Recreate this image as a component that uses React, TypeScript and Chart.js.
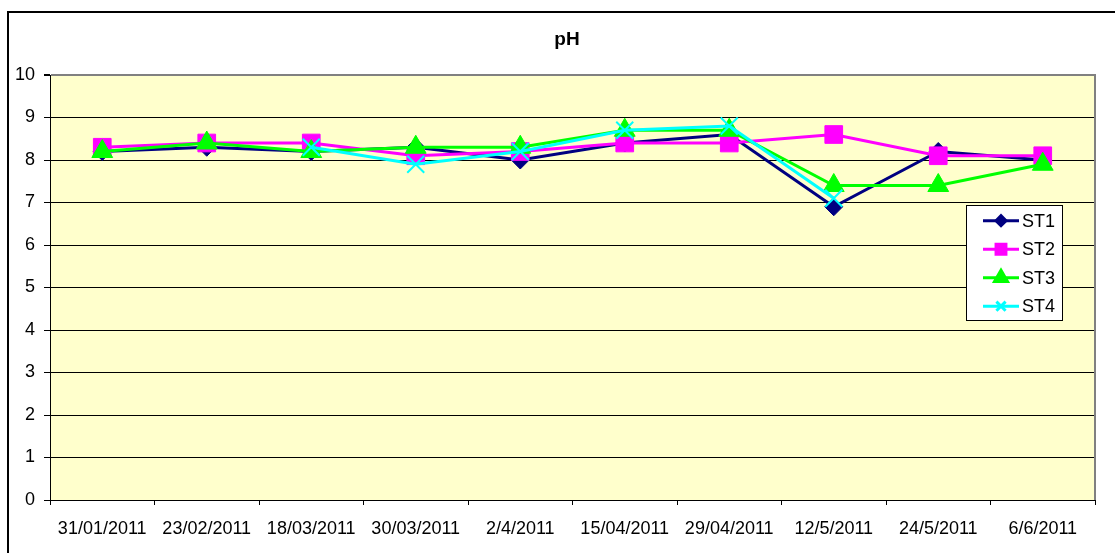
import React, { useEffect, useRef } from 'react';
import { Chart, registerables } from 'chart.js';
import { drawPoint } from 'chart.js/helpers';

Chart.register(...registerables);

const chartTitle = 'pH';
const categories = ['31/01/2011', '23/02/2011', '18/03/2011', '30/03/2011', '2/4/2011', '15/04/2011', '29/04/2011', '12/5/2011', '24/5/2011', '6/6/2011'];
const seriesNames = ['ST1', 'ST2', 'ST3', 'ST4'];
const st1 = [8.2, 8.3, 8.2, 8.3, 8.0, 8.4, 8.6, 6.9, 8.2, 8.0];
const st2 = [8.3, 8.4, 8.4, 8.1, 8.2, 8.4, 8.4, 8.6, 8.1, 8.1];
const st3 = [8.2, 8.4, 8.2, 8.3, 8.3, 8.7, 8.7, 7.4, 7.4, 7.9];
const st4 = [null, null, 8.3, 7.9, 8.2, 8.7, 8.8, 7.1, null, null];
const yMin = 0;
const yMax = 10;
const yStep = 1;

const FONT = "'Liberation Sans', Arial, sans-serif";

const styles = [
  { color: '#000080', pointStyle: 'rectRot', radius: 9, legendRadius: 5, borderWidth: 1 },
  { color: '#FF00FF', pointStyle: 'rect', radius: 12.5, legendRadius: 7, borderWidth: 1 },
  { color: '#00FF00', pointStyle: 'triangle', radius: 12, legendRadius: 7.5, borderWidth: 1 },
  { color: '#00FFFF', pointStyle: 'crossRot', radius: 12, legendRadius: 6.5, borderWidth: 2 },
];

const backgroundPlugin = {
  id: 'bgPlugin',
  beforeDraw(chart: any) {
    const { ctx, chartArea, width, height } = chart;
    ctx.save();
    ctx.fillStyle = '#ffffff';
    ctx.fillRect(0, 0, width, height);
    ctx.fillStyle = '#FFFFCC';
    ctx.fillRect(chartArea.left, chartArea.top, chartArea.right - chartArea.left, chartArea.bottom - chartArea.top);
    // outer chart border (extends beyond the canvas on the right and bottom)
    ctx.strokeStyle = '#000000';
    ctx.lineWidth = 2;
    ctx.strokeRect(8, 12, width + 20, height + 20);
    ctx.restore();
  },
  beforeDatasetsDraw(chart: any) {
    const { ctx, chartArea } = chart;
    ctx.save();
    ctx.strokeStyle = '#808080';
    ctx.lineWidth = 2;
    ctx.beginPath();
    ctx.moveTo(chartArea.right, chartArea.top - 1);
    ctx.lineTo(chartArea.right, chartArea.bottom);
    ctx.stroke();
    ctx.restore();
  },
  afterDraw(chart: any) {
    const { ctx } = chart;
    ctx.save();
    // title
    ctx.fillStyle = '#000000';
    ctx.font = `bold 19px ${FONT}`;
    ctx.textAlign = 'center';
    ctx.textBaseline = 'alphabetic';
    ctx.fillText(chartTitle, 567, 45);

    // legend
    const bx = 966.5, by = 205.5, bw = 96, bh = 115;
    ctx.fillStyle = '#ffffff';
    ctx.fillRect(bx, by, bw, bh);
    ctx.strokeStyle = '#000000';
    ctx.lineWidth = 1;
    ctx.strokeRect(bx, by, bw, bh);
    const rowH = 28.5;
    chart.data.datasets.forEach((ds: any, i: number) => {
      const cy = 220.7 + i * rowH;
      ctx.strokeStyle = ds.borderColor;
      ctx.lineWidth = 3;
      ctx.beginPath();
      ctx.moveTo(983, cy);
      ctx.lineTo(1019, cy);
      ctx.stroke();
      ctx.fillStyle = ds.pointBackgroundColor;
      ctx.strokeStyle = ds.pointBorderColor;
      drawPoint(ctx, {
        pointStyle: ds.pointStyle,
        rotation: 0,
        radius: styles[i].legendRadius,
        borderWidth: styles[i].borderWidth,
      } as any, 1001, cy);
      ctx.fillStyle = '#000000';
      ctx.font = `18px ${FONT}`;
      ctx.textAlign = 'left';
      ctx.textBaseline = 'middle';
      ctx.fillText(ds.label, 1022, cy + 1);
    });
    ctx.restore();
  },
};

export default function App() {
  const ref = useRef<HTMLCanvasElement>(null);

  useEffect(() => {
    if (!ref.current) return;
    const seriesData = [st1, st2, st3, st4];
    const chart = new Chart(ref.current, {
      type: 'line',
      data: {
        labels: categories,
        datasets: seriesData.map((d, i) => ({
          label: seriesNames[i],
          data: d,
          borderColor: styles[i].color,
          backgroundColor: styles[i].color,
          pointBackgroundColor: styles[i].color,
          pointBorderColor: styles[i].color,
          pointStyle: styles[i].pointStyle,
          pointRadius: styles[i].radius,
          pointBorderWidth: styles[i].borderWidth,
          pointHoverRadius: styles[i].radius,
          borderWidth: 3,
          tension: 0,
          fill: false,
          spanGaps: false,
          order: seriesData.length - i,
        })) as any,
      },
      plugins: [backgroundPlugin],
      options: {
        responsive: false,
        maintainAspectRatio: false,
        devicePixelRatio: 1,
        animation: false,
        events: [],
        layout: { padding: { left: 0, top: 75, right: 20, bottom: 0 } },
        plugins: {
          legend: { display: false },
          title: { display: false },
          tooltip: { enabled: false },
        },
        scales: {
          x: {
            type: 'category',
            offset: true,
            afterFit(scale: any) { scale.height = 53; },
            grid: {
              offset: true,
              drawOnChartArea: false,
              drawTicks: true,
              tickLength: 5,
              tickColor: '#000000',
              color: '#000000',
            },
            border: { display: true, color: '#000000', width: 1 },
            ticks: {
              color: '#000000',
              font: { family: FONT, size: 18 },
              padding: 13,
              maxRotation: 0,
              autoSkip: false,
            },
          },
          y: {
            min: yMin,
            max: yMax,
            afterFit(scale: any) { scale.width = 50; },
            grid: {
              color: (c: any) => (c.tick && c.tick.value === yMax ? '#808080' : '#000000'),
              lineWidth: (c: any) => (c.tick && c.tick.value === yMax ? 2 : 1),
              tickColor: '#000000',
              tickLength: 6,
              drawTicks: true,
            },
            border: { display: true, color: '#000000', width: 1 },
            ticks: {
              stepSize: yStep,
              color: '#000000',
              font: { family: FONT, size: 18 },
              padding: 9,
            },
          },
        },
      } as any,
    });
    return () => chart.destroy();
  }, []);

  return (
    <div style={{ position: 'fixed', left: 0, top: 0, width: 1115, height: 553, background: '#ffffff' }}>
      <canvas ref={ref} width={1115} height={553} style={{ display: 'block', width: 1115, height: 553 }} />
    </div>
  );
}
